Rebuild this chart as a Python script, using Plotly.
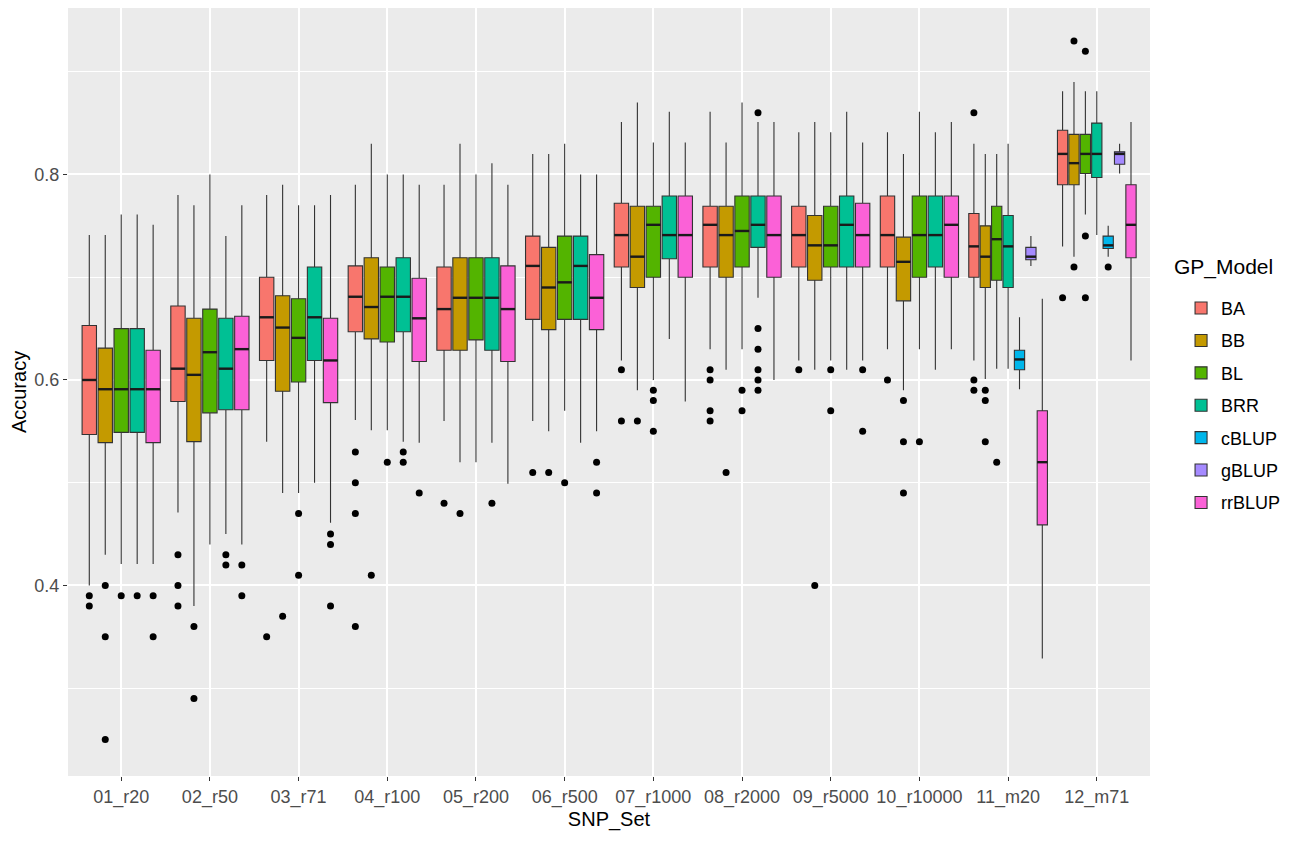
import plotly.graph_objects as go

# -----------------------------
# data
# -----------------------------
snp_sets = ["01_r20", "02_r50", "03_r71", "04_r100", "05_r200", "06_r500",
            "07_r1000", "08_r2000", "09_r5000", "10_r10000", "11_m20", "12_m71"]

models = ["BA", "BB", "BL", "BRR", "cBLUP", "gBLUP", "rrBLUP"]
colors = ["#F8766D", "#C49A00", "#53B400", "#00C094", "#00B6EB", "#A58AFF", "#FB61D7"]

# (lower whisker, q1, median, q3, upper whisker) per SNP set, None = not run
BA = [(0.400, 0.547, 0.600, 0.653, 0.741), (0.471, 0.579, 0.611, 0.672, 0.780),
      (0.540, 0.619, 0.661, 0.700, 0.780), (0.561, 0.647, 0.681, 0.711, 0.790),
      (0.560, 0.629, 0.669, 0.710, 0.790), (0.560, 0.659, 0.711, 0.740, 0.820),
      (0.619, 0.710, 0.741, 0.772, 0.851), (0.630, 0.710, 0.751, 0.769, 0.861),
      (0.619, 0.710, 0.741, 0.769, 0.841), (0.630, 0.710, 0.741, 0.779, 0.841),
      (0.619, 0.700, 0.730, 0.762, 0.830), (0.730, 0.790, 0.820, 0.843, 0.881)]
BB = [(0.430, 0.539, 0.591, 0.631, 0.741), (0.380, 0.540, 0.605, 0.660, 0.770),
      (0.490, 0.589, 0.651, 0.682, 0.790), (0.551, 0.640, 0.671, 0.719, 0.830),
      (0.520, 0.629, 0.680, 0.719, 0.830), (0.550, 0.649, 0.690, 0.729, 0.820),
      (0.590, 0.690, 0.720, 0.769, 0.870), (0.610, 0.700, 0.741, 0.769, 0.831),
      (0.610, 0.697, 0.731, 0.760, 0.851), (0.590, 0.677, 0.715, 0.739, 0.820),
      (0.601, 0.690, 0.720, 0.750, 0.820), (0.720, 0.790, 0.811, 0.839, 0.890)]
BL = [(0.421, 0.549, 0.591, 0.650, 0.761), (0.440, 0.568, 0.627, 0.669, 0.800),
      (0.490, 0.598, 0.641, 0.679, 0.770), (0.551, 0.637, 0.681, 0.710, 0.800),
      (0.520, 0.639, 0.680, 0.719, 0.800), (0.570, 0.659, 0.695, 0.740, 0.830),
      (0.600, 0.700, 0.751, 0.769, 0.831), (0.630, 0.710, 0.745, 0.779, 0.870),
      (0.619, 0.710, 0.731, 0.769, 0.841), (0.630, 0.700, 0.741, 0.779, 0.861),
      (0.611, 0.697, 0.737, 0.769, 0.820), (0.761, 0.801, 0.820, 0.839, 0.881)]
BRR = [(0.421, 0.549, 0.591, 0.650, 0.761), (0.450, 0.571, 0.611, 0.660, 0.740),
       (0.500, 0.619, 0.661, 0.710, 0.770), (0.540, 0.647, 0.681, 0.719, 0.800),
       (0.539, 0.629, 0.680, 0.719, 0.811), (0.539, 0.659, 0.711, 0.740, 0.800),
       (0.640, 0.718, 0.741, 0.779, 0.861), (0.680, 0.729, 0.751, 0.779, 0.851),
       (0.610, 0.710, 0.751, 0.779, 0.861), (0.610, 0.710, 0.741, 0.779, 0.841),
       (0.611, 0.690, 0.730, 0.760, 0.830), (0.741, 0.797, 0.820, 0.850, 0.881)]
cBLUP = [None] * 10 + [(0.591, 0.610, 0.620, 0.629, 0.661),
                       (0.720, 0.728, 0.731, 0.740, 0.750)]
gBLUP = [None] * 10 + [(0.711, 0.717, 0.720, 0.729, 0.740),
                       (0.801, 0.810, 0.820, 0.822, 0.830)]
rrBLUP = [(0.421, 0.539, 0.591, 0.629, 0.751), (0.440, 0.571, 0.630, 0.662, 0.770),
          (0.461, 0.578, 0.619, 0.660, 0.780), (0.539, 0.618, 0.660, 0.699, 0.790),
          (0.499, 0.618, 0.669, 0.711, 0.790), (0.550, 0.649, 0.680, 0.722, 0.800),
          (0.579, 0.700, 0.741, 0.779, 0.831), (0.600, 0.700, 0.741, 0.779, 0.851),
          (0.619, 0.710, 0.741, 0.772, 0.831), (0.630, 0.700, 0.751, 0.779, 0.851),
          (0.329, 0.459, 0.520, 0.570, 0.679), (0.619, 0.719, 0.751, 0.790, 0.851)]

# outliers per SNP set
BA_out = [[0.39, 0.38], [0.43, 0.40, 0.38], [0.35], [0.53, 0.50, 0.47, 0.36], [0.48],
          [0.51], [0.61, 0.56], [0.61, 0.60, 0.57, 0.56], [0.61], [0.60],
          [0.86, 0.60, 0.59], [0.68]]
BB_out = [[0.40, 0.35, 0.25], [0.36, 0.29], [0.37], [0.41], [0.47], [0.51], [0.56],
          [0.51], [0.40], [0.58, 0.54, 0.49], [0.59, 0.58, 0.54], [0.93, 0.71]]
BL_out = [[0.39], [], [0.47, 0.41], [0.52], [], [0.50], [0.59, 0.58, 0.55],
          [0.59, 0.57], [0.61, 0.57], [0.54], [0.52], [0.92, 0.74, 0.68]]
BRR_out = [[0.39], [0.43, 0.42], [], [0.53, 0.52], [0.48], [], [],
           [0.86, 0.65, 0.63, 0.61, 0.60, 0.59], [], [], [], []]
cBLUP_out = [[]] * 11 + [[0.71]]
gBLUP_out = [[]] * 12
rrBLUP_out = [[0.39, 0.35], [0.42, 0.39], [0.45, 0.44, 0.38], [0.49], [],
              [0.52, 0.49], [], [], [0.61, 0.55], [], [], []]

stats = [BA, BB, BL, BRR, cBLUP, gBLUP, rrBLUP]
outliers = [BA_out, BB_out, BL_out, BRR_out, cBLUP_out, gBLUP_out, rrBLUP_out]

# -----------------------------
# dodge like ggplot (each set split among the models it has)
# -----------------------------
fig = go.Figure()
shown = set()
for i, s in enumerate(snp_sets):
    present = [m for m in range(len(models)) if stats[m][i] is not None]
    n = len(present)
    slot = 0.9 / n
    for j, m in enumerate(present):
        pos = i - 0.45 + (j + 0.5) * slot
        w = slot * 0.9
        lo, q1, med, q3, hi = stats[m][i]
        fig.add_trace(go.Box(
            x=[pos], q1=[q1], median=[med], q3=[q3],
            lowerfence=[lo], upperfence=[hi],
            width=w, whiskerwidth=0, boxpoints=False,
            fillcolor=colors[m], line=dict(color="#333333", width=1.1),
            name=models[m], legendgroup=models[m], legendrank=m + 1,
            showlegend=models[m] not in shown, hoverinfo="skip",
        ))
        shown.add(models[m])
        # thicker median bar, like ggplot's fatten
        fig.add_trace(go.Scatter(
            x=[pos - w / 2, pos + w / 2], y=[med, med], mode="lines",
            line=dict(color="#1A1A1A", width=2.4),
            legendgroup=models[m], showlegend=False, hoverinfo="skip",
        ))
        pts = outliers[m][i]
        if pts:
            fig.add_trace(go.Scatter(
                x=[pos] * len(pts), y=pts, mode="markers",
                marker=dict(color="black", size=7),
                legendgroup=models[m], showlegend=False, hoverinfo="y",
            ))

# page body has an 8px margin, so the figure is a little smaller than the window
fig.update_layout(
    width=1291, height=834,
    margin=dict(l=60, r=149, t=0, b=66),
    paper_bgcolor="white",
    plot_bgcolor="#EBEBEB",
    font=dict(family="Liberation Sans, Arial, sans-serif", size=17, color="black"),
    legend=dict(
        x=1.0287, xanchor="left", y=0.633, yanchor="top",
        font=dict(size=18), tracegroupgap=6, bgcolor="white",
    ),
    annotations=[dict(
        text="GP_Model", xref="paper", yref="paper", x=1.0203, y=0.663,
        xanchor="left", yanchor="middle", showarrow=False,
        font=dict(size=21, color="black"),
    )],
    xaxis=dict(
        range=[-0.6, 11.6], tickmode="array",
        tickvals=list(range(len(snp_sets))), ticktext=snp_sets,
        showgrid=True, gridcolor="white", gridwidth=1.6, zeroline=False,
        ticks="outside", ticklen=4, tickcolor="#333333",
        tickfont=dict(color="#4D4D4D", size=18),
        title=dict(text="SNP_Set", font=dict(size=20), standoff=4),
    ),
    yaxis=dict(
        range=[0.2146, 0.962], tickvals=[0.4, 0.6, 0.8],
        ticktext=["0.4", "0.6", "0.8"],
        showgrid=True, gridcolor="white", gridwidth=1.6, zeroline=False,
        ticks="outside", ticklen=4, tickcolor="#333333",
        tickfont=dict(color="#4D4D4D", size=18),
        minor=dict(tickvals=[0.3, 0.5, 0.7, 0.9], showgrid=True,
                   gridcolor="white", gridwidth=0.8, ticks=""),
        title=dict(text="Accuracy", font=dict(size=20), standoff=8),
    ),
)

fig.write_html("out.html")
